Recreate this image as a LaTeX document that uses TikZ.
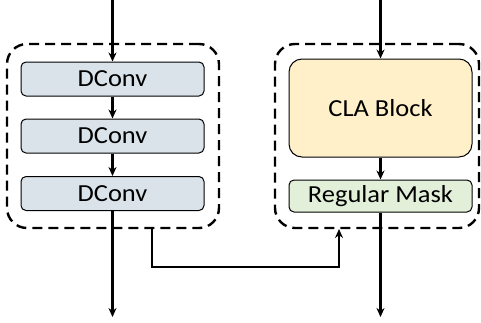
\documentclass[tikz,border=0pt]{standalone}
\usepackage{fontspec}
\usepackage{graphicx}
\setmainfont{Carlito}
\usetikzlibrary{arrows.meta,calc}
\definecolor{convfill}{HTML}{DAE3EA}
\definecolor{clafill}{HTML}{FFF0C9}
\definecolor{maskfill}{HTML}{E2F0D9}
% slightly widened lettering used in all boxes
\newcommand{\widetxt}[1]{\scalebox{1.08}[1]{#1}}
\tikzset{
  blk/.style={draw=black, line width=1pt, rounded corners=5pt, inner sep=0pt,
    font=\fontsize{24.5}{28}\selectfont},
  conv/.style={blk, fill=convfill, minimum width=183pt, minimum height=34pt},
  cla/.style={blk, fill=clafill, rounded corners=13pt, minimum width=183pt, minimum height=98pt},
  mask/.style={blk, fill=maskfill, minimum width=183pt, minimum height=32pt},
  group/.style={draw=black, line width=2.4pt, dash pattern=on 10pt off 6pt, rounded corners=20pt,
    inner sep=0pt},
  flow/.style={line width=2.2pt, -{Stealth[length=9pt,width=8pt]}},
}
\begin{document}
\begin{tikzpicture}[x=1pt,y=-1pt]
  \useasboundingbox (0,0) rectangle (481,322);
  % dashed groups
  \node[group, minimum width=212pt, minimum height=184pt] (grpL) at (113,136) {};
  \node[group, minimum width=204pt, minimum height=184pt] (grpR) at (377,136) {};
  % left branch
  \node[conv] (c1) at (112.5,79) {\widetxt{DConv}};
  \node[conv] (c2) at (112.5,136) {\widetxt{DConv}};
  \node[conv] (c3) at (112.5,193.5) {\widetxt{DConv}};
  % right branch
  \node[cla] (cla) at (380.5,108) {\widetxt{CLA Block}};
  \node[mask] (mask) at (380.5,196) {\widetxt{Regular Mask}};
  % free ends
  \coordinate (inL) at (112.5,0);
  \coordinate (outL) at (112.5,317);
  \coordinate (inR) at (380.5,0);
  \coordinate (outR) at (380.5,317);
  \coordinate (linkS) at (152,228);
  \coordinate (linkE) at (339,229);
  % connectors
  \draw[flow] (inL) -- (c1.north);
  \draw[flow] (c1.south) -- (c2.north);
  \draw[flow] (c2.south) -- (c3.north);
  \draw[flow] (c3.south) -- (outL);
  \draw[flow] (inR) -- (cla.north);
  \draw[flow] (cla.south) -- (mask.north);
  \draw[flow] (mask.south) -- (outR);
  \draw[flow] (linkS) -- (152,267) -- (339,267) -- (linkE);
\end{tikzpicture}
\end{document}
